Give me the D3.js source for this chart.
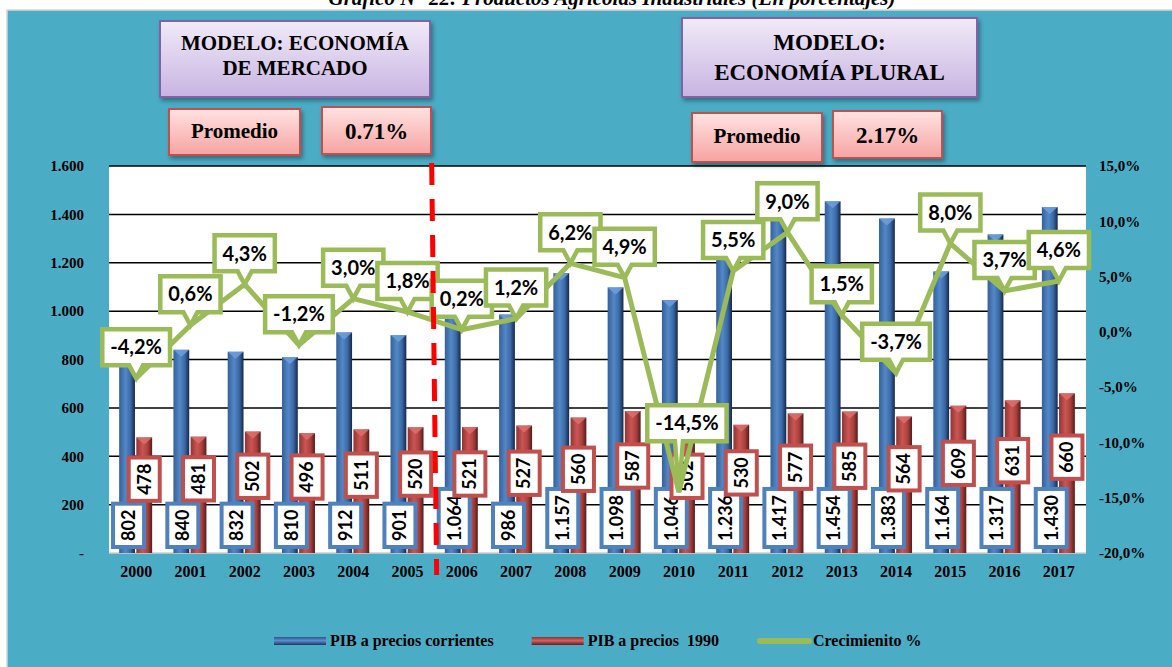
<!DOCTYPE html>
<html>
<head>
<meta charset="utf-8">
<script src="https://cdn.jsdelivr.net/npm/d3@7"></script>
<style>
  body { margin: 0; background: #fff; }
  svg { display: block; }
  .serif { font-family: "Liberation Serif", "Times New Roman", serif; font-weight: bold; }
  .sans { font-family: Lato, "Open Sans", sans-serif; font-weight: bold; }
</style>
</head>
<body>
<div id="chart"></div>
<script>
// data
const years = ["2000","2001","2002","2003","2004","2005","2006","2007","2008",
  "2009","2010","2011","2012","2013","2014","2015","2016","2017"];
const pibCorrientes = [802, 840, 832, 810, 912, 901, 1064, 986, 1157, 1098, 1046, 1236, 1417, 1454, 1383, 1164, 1317, 1430];
const pib1990 = [478, 481, 502, 496, 511, 520, 521, 527, 560, 587, 502, 530, 577, 585, 564, 609, 631, 660];
const crecimiento = [-4.2, 0.6, 4.3, -1.2, 3.0, 1.8, 0.2, 1.2, 6.2, 4.9, -14.5, 5.5, 9.0, 1.5, -3.7, 8.0, 3.7, 4.6];
const leftTicks = [0, 200, 400, 600, 800, 1000, 1200, 1400, 1600];
const rightTicks = [15, 10, 5, 0, -5, -10, -15, -20];
const seriesNames = ["PIB a precios corrientes", "PIB a precios  1990", "Crecimienito %"];
const modelTitles = [["MODELO: ECONOMÍA", "DE MERCADO"], ["MODELO:", "ECONOMÍA PLURAL"]];
const promedios = ["0.71%", "2.17%"];
const title = "Gráfico N° 22: Productos Agrícolas Industriales (En porcentajes)";

const width = 1172, height = 667;
const plot = {left: 109, right: 1086, top: 166, bottom: 553};

// spanish style numbers, plain hyphen for minus
const es = d3.formatLocale({decimal: ",", thousands: ".", grouping: [3], currency: ["", ""], minus: "-"});
const fmtInt = es.format(",");
const fmtPct = d => es.format(".1f")(d) + "%";

const svg = d3.select("#chart").append("svg")
  .attr("width", width)
  .attr("height", height);

const defs = svg.append("defs");

function hGrad(id, stops, vertical) {
  const g = defs.append("linearGradient").attr("id", id)
    .attr("x1", 0).attr("y1", 0)
    .attr("x2", vertical ? 0 : 1).attr("y2", vertical ? 1 : 0);
  stops.forEach(s => g.append("stop").attr("offset", s[0]).attr("stop-color", s[1]));
}
hGrad("blueBar", [[0, "#34609a"], [0.4, "#5388c6"], [0.72, "#3b69a6"], [1, "#15284a"]]);
hGrad("redBar", [[0, "#8e3533"], [0.4, "#cc5552"], [0.72, "#a9413e"], [1, "#571b1a"]]);
hGrad("blueLeg", [[0, "#2d5589"], [0.45, "#5b8fd0"], [1, "#1d3560"]], true);
hGrad("redLeg", [[0, "#8a3331"], [0.45, "#d4625f"], [1, "#5e1e1d"]], true);
hGrad("purpleBox", [[0, "#f1eaf8"], [1, "#c8b4e2"]], true);
hGrad("pinkBox", [[0, "#ffe3e2"], [1, "#f6a3a1"]], true);

const shadow = defs.append("filter").attr("id", "shadow")
  .attr("x", "-10%").attr("y", "-10%").attr("width", "130%").attr("height", "140%");
shadow.append("feDropShadow").attr("dx", 2).attr("dy", 3)
  .attr("stdDeviation", 2).attr("flood-color", "#000").attr("flood-opacity", 0.35);

// title (cut off at top of page, as in the source)
svg.append("text")
  .attr("x", 612).attr("y", 5)
  .attr("text-anchor", "middle")
  .attr("class", "serif")
  .style("font-style", "italic")
  .style("font-size", "21px")
  .text(title);

// teal chart area
svg.append("rect")
  .attr("x", 7).attr("y", 10)
  .attr("width", 1166).attr("height", 658)
  .attr("fill", "#4BACC6")
  .attr("stroke", "#d6d6d6")
  .attr("stroke-width", 1.5);

// scales
const x = d3.scaleBand().domain(years).range([plot.left, plot.right]);
const bw = x.bandwidth();
const xs = d3.scaleBand().domain(["corr", "base"]).range([-17, 16]).paddingInner(0.08);
const y = d3.scaleLinear().domain([0, 1600]).range([plot.bottom, plot.top]);
const y2 = d3.scaleLinear().domain([-20, 15]).range([plot.bottom, plot.top]);
const cx = i => x(years[i]) + bw / 2;

// plot area
svg.append("rect")
  .attr("x", plot.left).attr("y", plot.top)
  .attr("width", plot.right - plot.left)
  .attr("height", plot.bottom - plot.top)
  .attr("fill", "#fff");

svg.append("g").selectAll("line")
  .data(leftTicks.filter(t => t > 0))
  .join("line")
  .attr("x1", plot.left).attr("x2", plot.right)
  .attr("y1", d => y(d)).attr("y2", d => y(d))
  .attr("stroke", "#000")
  .attr("stroke-width", 1.5);

svg.append("line")
  .attr("x1", plot.left).attr("x2", plot.right)
  .attr("y1", plot.bottom).attr("y2", plot.bottom)
  .attr("stroke", "#cfcfcf").attr("stroke-width", 1.5);

// axes
const leftFmt = d => d === 0 ? "-" : fmtInt(d);

const yAxis = svg.append("g")
  .attr("transform", "translate(84,0)")
  .call(d3.axisLeft(y).tickValues(leftTicks).tickSize(0).tickPadding(0).tickFormat(leftFmt));
const y2Axis = svg.append("g")
  .attr("transform", "translate(1099,0)")
  .call(d3.axisRight(y2).tickValues(rightTicks).tickSize(0).tickPadding(0).tickFormat(fmtPct));
const xAxis = svg.append("g")
  .attr("transform", "translate(0,566)")
  .call(d3.axisBottom(x).tickSize(0).tickPadding(0));

[yAxis, y2Axis, xAxis].forEach(g => {
  g.select(".domain").remove();
  g.selectAll("text")
    .attr("class", "serif")
    .attr("fill", "#000")
    .style("font-size", "15px");
});
xAxis.selectAll("text").style("font-size", "16px");

// bars
function drawBars(values, key, grad, cap) {
  const g = svg.append("g");
  values.forEach((v, i) => {
    const x0 = cx(i) + xs(key), w = xs.bandwidth(), top = y(v);
    g.append("rect")
      .attr("x", x0).attr("y", top)
      .attr("width", w).attr("height", plot.bottom - top)
      .attr("fill", "url(#" + grad + ")");
    g.append("path")
      .attr("d", `M${x0},${top}L${x0 + w},${top}L${x0 + w / 2},${top + 7}Z`)
      .attr("fill", cap).attr("opacity", 0.85);
  });
}
drawBars(pibCorrientes, "corr", "blueBar", "#6f9fdc");
drawBars(pib1990, "base", "redBar", "#d9706d");

// vertical value labels on bars
function barLabel(g, v, xc, yc, anchorBottom, color) {
  const grp = g.append("g");
  const t = grp.append("text")
    .attr("class", "sans")
    .style("font-size", "18px")
    .attr("text-anchor", "middle")
    .attr("dy", "0.35em")
    .text(fmtInt(v));
  const tw = t.node().getComputedTextLength();
  const h = tw + 12, w = 31;
  const cy = anchorBottom ? yc - h / 2 : yc;
  t.attr("transform", `translate(${xc},${cy}) rotate(-90)`);
  grp.insert("rect", "text")
    .attr("x", xc - w / 2).attr("y", cy - h / 2)
    .attr("width", w).attr("height", h)
    .attr("fill", "#fff")
    .attr("stroke", color).attr("stroke-width", 4);
}
const labG = svg.append("g");
pibCorrientes.forEach((v, i) => {
  barLabel(labG, v, cx(i) + xs("corr") + xs.bandwidth() / 2 + 1.5, 547, true, "#4F81BD");
});
pib1990.forEach((v, i) => {
  barLabel(labG, v, cx(i) + xs("base") + xs.bandwidth() / 2, y(v / 2) - 16, false, "#C0504D");
});

// growth line
const line = d3.line()
  .x((d, i) => cx(i))
  .y(d => y2(d));

svg.append("path")
  .datum(crecimiento)
  .attr("d", line)
  .attr("fill", "none")
  .attr("stroke", "#9BBB59")
  .attr("stroke-width", 5)
  .attr("stroke-miterlimit", 3);

// callouts for growth values
const callG = svg.append("g");
crecimiento.forEach((v, i) => {
  const px = cx(i), py = y2(v);
  // the big drop in 2010 has its label pulled up and a bit right
  const big = v < -10;
  const bx = px + (big ? 8 : 0), by = py + (big ? -69 : -31);
  const grp = callG.append("g");
  const t = grp.append("text")
    .attr("class", "sans")
    .style("font-size", "20px")
    .attr("x", bx).attr("y", by)
    .attr("dy", "0.36em")
    .attr("text-anchor", "middle")
    .text(fmtPct(v));
  const tw = t.node().getComputedTextLength();
  const w = tw + 16, h = 36;
  const x0 = bx - w / 2, x1 = bx + w / 2, y0 = by - h / 2, y1 = by + h / 2;
  const wx = Math.max(x0 + 8, Math.min(x1 - 8, px));
  const half = big ? 4 : 7;
  grp.insert("path", "text")
    .attr("d", `M${x0},${y0}H${x1}V${y1}H${wx + half}L${px},${py}L${wx - half},${y1}H${x0}Z`)
    .attr("fill", "#fff")
    .attr("stroke", "#9BBB59")
    .attr("stroke-width", 4.5)
    .attr("stroke-linejoin", "miter");
});

// dividing line between the two models
const xDiv = x("2006") - 3;
svg.append("line")
  .attr("x1", xDiv).attr("y1", 163)
  .attr("x2", xDiv + 5).attr("y2", 575)
  .attr("stroke", "#FF0000")
  .attr("stroke-width", 5)
  .attr("stroke-dasharray", "22,14");

// annotation boxes
function box(x0, y0, w, h, fill, stroke, lines, size, base, gap) {
  const g = svg.append("g");
  g.append("rect")
    .attr("x", x0).attr("y", y0).attr("width", w).attr("height", h)
    .attr("fill", "url(#" + fill + ")")
    .attr("stroke", stroke).attr("stroke-width", 2)
    .attr("filter", "url(#shadow)");
  lines.forEach((l, k) => {
    g.append("text")
      .attr("class", "serif")
      .attr("x", x0 + w / 2).attr("y", base + k * gap)
      .attr("text-anchor", "middle")
      .style("font-size", size + "px")
      .text(l);
  });
}
box(160, 21, 270, 76, "purpleBox", "#8064A2", modelTitles[0], 21, 50, 25);
box(682, 18, 295, 79, "purpleBox", "#8064A2", modelTitles[1], 23, 50, 30);
box(169, 109, 131, 46, "pinkBox", "#C0504D", ["Promedio"], 21, 138, 0);
box(322, 107, 109, 47, "pinkBox", "#C0504D", [promedios[0]], 23, 139, 0);
box(692, 113, 130, 49, "pinkBox", "#C0504D", ["Promedio"], 21, 143, 0);
box(833, 111, 109, 47, "pinkBox", "#C0504D", [promedios[1]], 23, 143, 0);

// legend
const legend = svg.append("g");
let lx = 274;
seriesNames.forEach((name, k) => {
  if (k < 2) {
    legend.append("rect")
      .attr("x", lx).attr("y", 637)
      .attr("width", 52).attr("height", 8)
      .attr("fill", "url(#" + (k === 0 ? "blueLeg" : "redLeg") + ")");
  } else {
    legend.append("line")
      .attr("x1", lx + 3).attr("x2", lx + 52)
      .attr("y1", 641).attr("y2", 641)
      .attr("stroke", "#9BBB59").attr("stroke-width", 6)
      .attr("stroke-linecap", "round");
  }
  const t = legend.append("text")
    .attr("class", "serif")
    .attr("x", lx + 56).attr("y", 646)
    .style("font-size", "16px")
    .style("white-space", "pre")
    .text(name);
  lx += 56 + t.node().getComputedTextLength() + 38;
});
</script>
</body>
</html>
